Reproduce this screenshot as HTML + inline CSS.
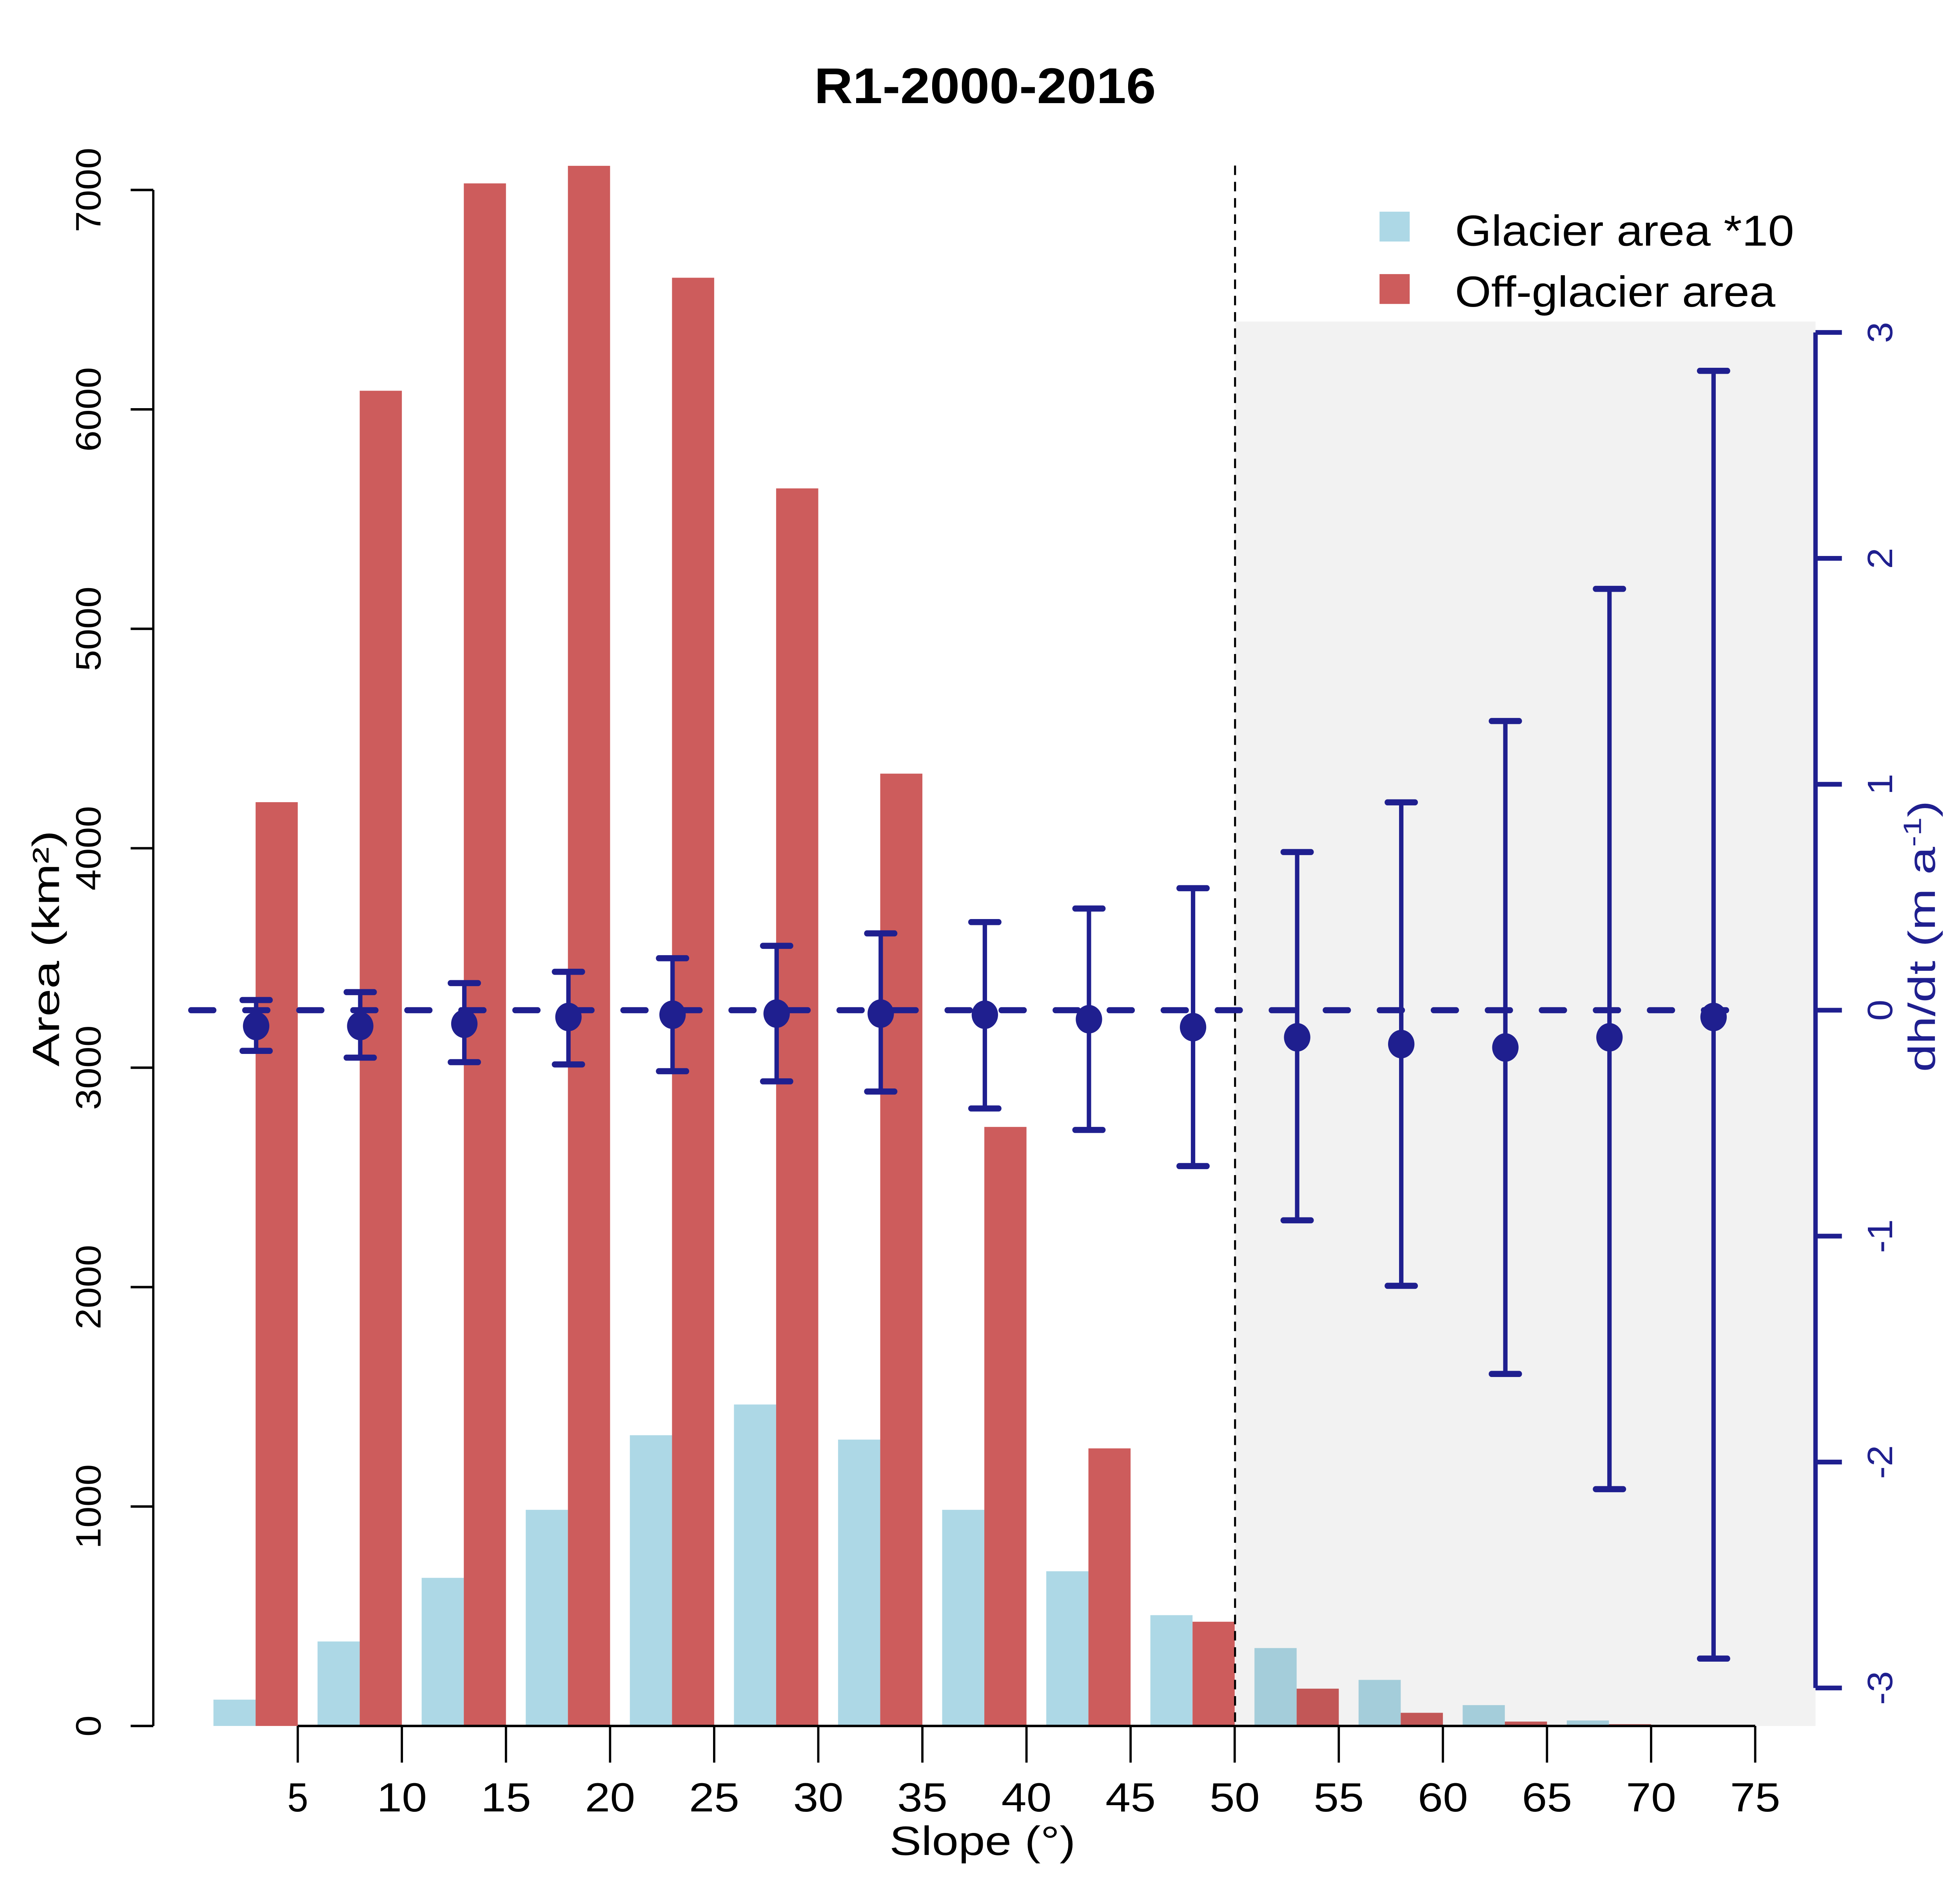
<!DOCTYPE html>
<html><head><meta charset="utf-8"><style>
html,body{margin:0;padding:0;background:#fff;width:100%;height:100%;overflow:hidden;}
svg{display:block;position:absolute;left:0;top:0;width:100vw;height:100vh;font-family:"Liberation Sans",Arial,sans-serif;}
</style></head><body>
<svg id="chart" viewBox="0 0 1560 1387" preserveAspectRatio="none" xmlns="http://www.w3.org/2000/svg">
<rect width="1560" height="1387" fill="#fff"/>
<text x="784" y="76" font-size="37" font-weight="bold" text-anchor="middle" textLength="272" lengthAdjust="spacingAndGlyphs">R1-2000-2016</text>
<g id="bars"></g>
<rect x="983" y="237" width="462" height="1035" fill="#000" fill-opacity="0.052"/>
<line x1="983" y1="122" x2="983" y2="1272" stroke="#000" stroke-width="1.6" stroke-dasharray="7 5"/>
<g id="left-axis"></g>
<g id="bottom-axis"></g>
<g id="right-axis"></g>
<g id="dh"></g>
<text transform="translate(47,699) rotate(-90)" font-size="30" text-anchor="middle" textLength="174" lengthAdjust="spacingAndGlyphs">Area (km²)</text>
<text x="782" y="1367" font-size="30" text-anchor="middle" textLength="148" lengthAdjust="spacingAndGlyphs">Slope (°)</text>
<text transform="translate(1540,690) rotate(-90)" font-size="30" text-anchor="middle" fill="#1f1f8f" textLength="200" lengthAdjust="spacingAndGlyphs">dh/dt (m a<tspan font-size="20" dy="-11">-1</tspan><tspan dy="11">)</tspan></text>
<g>
<rect x="1098" y="156" width="24" height="22" fill="#add8e6"/>
<text x="1158" y="181" font-size="32" textLength="270" lengthAdjust="spacingAndGlyphs">Glacier area *10</text>
<rect x="1098" y="202" width="24" height="22" fill="#cd5c5c"/>
<text x="1158" y="226" font-size="32" textLength="255" lengthAdjust="spacingAndGlyphs">Off-glacier area</text>
</g>
</svg>
<script>
const slopeBins = [5,10,15,20,25,30,35,40,45,50,55,60,65,70,75];
const glacierArea10 = [120,385,675,985,1325,1465,1305,985,705,505,355,210,95,25,5];
const offGlacierArea = [4210,6085,7030,7110,6600,5640,4340,2730,1265,475,170,60,20,8,2];
const dhSlopes = [3,8,13,18,23,28,33,38,43,48,53,58,63,68,73];
const dhMean = [-0.07,-0.07,-0.06,-0.03,-0.02,-0.015,-0.015,-0.02,-0.04,-0.075,-0.12,-0.15,-0.165,-0.12,-0.03];
const dhUpper = [0.045,0.08,0.12,0.17,0.23,0.285,0.34,0.39,0.45,0.54,0.70,0.92,1.28,1.865,2.83];
const dhLower = [-0.18,-0.21,-0.23,-0.24,-0.27,-0.315,-0.36,-0.435,-0.53,-0.69,-0.93,-1.22,-1.61,-2.12,-2.87];
const areaTicks = [0,1000,2000,3000,4000,5000,6000,7000];
const slopeTicks = [5,10,15,20,25,30,35,40,45,50,55,60,65,70,75];
const dhTicks = [-3,-2,-1,0,1,2,3];

const NS='http://www.w3.org/2000/svg';
const xS = v => 237 + (v-5)*(1397-237)/70;
const yA = v => 1272 - v*(1272-140)/7000;
const yD = v => 744.5 - v*(1244-245)/6;
function mk(tag, attrs, parent){const e=document.createElementNS(NS,tag);for(const k in attrs)e.setAttribute(k,attrs[k]);parent.appendChild(e);return e;}
const bars=document.getElementById('bars');
const bw=(xS(10)-xS(5))*0.405;
slopeBins.forEach((b,i)=>{
  const xr=xS(b);
  const g=mk('rect',{x:xr-2*bw,y:yA(glacierArea10[i]),width:bw,height:1272-yA(glacierArea10[i]),fill:'#add8e6'},bars);
  
  
  const r=mk('rect',{x:xr-bw,y:yA(offGlacierArea[i]),width:bw,height:1272-yA(offGlacierArea[i]),fill:'#cd5c5c'},bars);
  
  
});
const la=document.getElementById('left-axis');


mk('line',{x1:122,y1:yA(0),x2:122,y2:yA(7000),stroke:'#000','stroke-width':1.8},la);
areaTicks.forEach(t=>{
  mk('line',{x1:104,y1:yA(t),x2:122,y2:yA(t),stroke:'#000','stroke-width':1.8},la);
  const tx=mk('text',{transform:`translate(80,${yA(t)}) rotate(-90)`,'font-size':28,'text-anchor':'middle'},la);
  
  
  tx.textContent=t;
});
const ba=document.getElementById('bottom-axis');


mk('line',{x1:xS(5),y1:1272,x2:xS(75),y2:1272,stroke:'#000','stroke-width':1.8},ba);
slopeTicks.forEach(t=>{
  mk('line',{x1:xS(t),y1:1272,x2:xS(t),y2:1299,stroke:'#000','stroke-width':1.8},ba);
  const tx=mk('text',{x:xS(t),y:1335,'font-size':30,'text-anchor':'middle'},ba);
  if(String(t).length===2){tx.setAttribute('textLength','40');tx.setAttribute('lengthAdjust','spacingAndGlyphs');}
  
  
  tx.textContent=t;
});
const C='#1f1f8f';
const ra=document.getElementById('right-axis');


mk('line',{x1:1445,y1:yD(-3),x2:1445,y2:yD(3),stroke:C,'stroke-width':3.5},ra);
dhTicks.forEach(t=>{
  mk('line',{x1:1445,y1:yD(t),x2:1466,y2:yD(t),stroke:C,'stroke-width':3.5},ra);
  const tx=mk('text',{transform:`translate(1506,${yD(t)}) rotate(-90)`,'font-size':28,'text-anchor':'middle',fill:C},ra);
  
  
  tx.textContent=t;
});
const dh=document.getElementById('dh');
const zl=mk('line',{x1:152,y1:yD(0),x2:1382,y2:yD(0),stroke:C,'stroke-width':4.5,'stroke-dasharray':'18 25','stroke-linecap':'round'},dh);


dhSlopes.forEach((s,i)=>{
  const x=xS(s);
  const eb=mk('g',{},dh);
  
  
  mk('line',{x1:x,y1:yD(dhUpper[i]),x2:x,y2:yD(dhLower[i]),stroke:C,'stroke-width':3.5},eb);
  mk('line',{x1:x-11,y1:yD(dhUpper[i]),x2:x+11,y2:yD(dhUpper[i]),stroke:C,'stroke-width':4.5,'stroke-linecap':'round'},eb);
  mk('line',{x1:x-11,y1:yD(dhLower[i]),x2:x+11,y2:yD(dhLower[i]),stroke:C,'stroke-width':4.5,'stroke-linecap':'round'},eb);
  const p=mk('circle',{cx:x,cy:yD(dhMean[i]),r:10.5,fill:C},dh);
  
  
});
</script>
</body></html>
